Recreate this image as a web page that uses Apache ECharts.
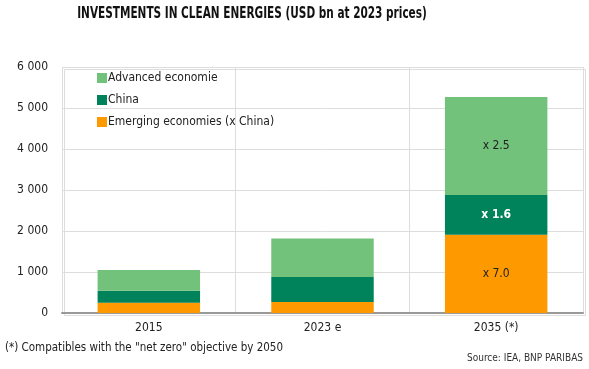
<!DOCTYPE html>
<html><head><meta charset="utf-8">
<script src="https://cdn.jsdelivr.net/npm/echarts@6/dist/echarts.min.js"></script>
<style>html,body{margin:0;padding:0;background:#fff}#c{width:589px;height:369px}</style>
</head><body><div id="c"></div>
<script>
const categories = ['2015', '2023 e', '2035 (*)'];
const emerging = [250, 270, 1910];
const china = [290, 610, 970];
const advanced = [510, 940, 2390];
const emergingLabels = ['', '', 'x 7.0'];
const chinaLabels = ['', '', 'x 1.6'];
const advancedLabels = ['', '', 'x 2.5'];
const yTicks = [0, 1000, 2000, 3000, 4000, 5000, 6000];

const font = '"DejaVu Sans Condensed", "DejaVu Sans", sans-serif';
const chart = echarts.init(document.getElementById('c'));
function fmt(v){ return String(v).replace(/\B(?=(\d{3})+(?!\d))/g, ' '); }
function lbl(arr, color, weight){
  return { show: true, position: 'inside', color: color, fontFamily: font, fontSize: 12, fontWeight: weight || 'normal',
    formatter: p => arr[p.dataIndex] };
}
chart.setOption({
  animation: false,
  textStyle: { fontFamily: font },
  legend: {
    orient: 'vertical', left: 92, top: 67, itemGap: 10,
    itemWidth: 10, itemHeight: 10, icon: 'rect',
    data: ['Advanced economie', 'China', 'Emerging economies (x China)'],
    textStyle: { fontFamily: font, fontSize: 12, color: '#222', padding: [0,0,0,-4] }
  },
  grid: { left: 62, right: 6, top: 67, bottom: 56 },
  xAxis: {
    type: 'category', data: categories,
    axisLine: { lineStyle: { color: '#999', width: 2 } },
    axisTick: { show: false },
    splitLine: { show: true, lineStyle: { color: '#ddd' } },
    axisLabel: { color: '#222', fontSize: 12, fontFamily: font, margin: 9 }
  },
  yAxis: {
    type: 'value', min: yTicks[0], max: yTicks[yTicks.length-1], interval: 1000,
    axisLine: { show: false }, axisTick: { show: false },
    splitLine: { lineStyle: { color: '#ddd' } },
    axisLabel: { color: '#222', fontSize: 12, fontFamily: font, margin: 14, formatter: v => fmt(v) }
  },
  graphic: [
    { type: 'text', x: 252, y: 14, scaleX: 0.73,
      style: { text: 'INVESTMENTS IN CLEAN ENERGIES (USD bn at 2023 prices)', textAlign: 'center', textVerticalAlign: 'middle',
        fontFamily: font, fontSize: 16, fontWeight: 'bold', fill: '#111' } },
    { type: 'text', left: 5, top: 342, style: { text: '(*) Compatibles with the "net zero" objective by 2050', fontFamily: font, fontSize: 11.5, fill: '#222' } },
    { type: 'text', right: 6, top: 353, style: { text: 'Source: IEA, BNP PARIBAS', fontFamily: font, fontSize: 10, fill: '#333' } },
    { type: 'rect', left: 62, top: 67, shape: { width: 521, height: 246 }, style: { fill: 'none', stroke: '#ddd' }, z: -1 }
  ],
  series: [
    { name: 'Emerging economies (x China)', type: 'bar', stack: 's', data: emerging, barWidth: '59%',
      itemStyle: { color: '#FF9900' }, label: lbl(emergingLabels, '#222') },
    { name: 'China', type: 'bar', stack: 's', data: china,
      itemStyle: { color: '#00835A' }, label: lbl(chinaLabels, '#fff', 'bold') },
    { name: 'Advanced economie', type: 'bar', stack: 's', data: advanced,
      itemStyle: { color: '#72C27B' }, label: lbl(advancedLabels, '#222') }
  ]
});
</script></body></html>
